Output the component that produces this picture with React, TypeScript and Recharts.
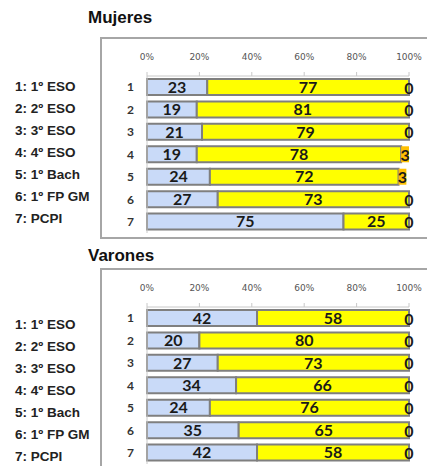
import React from "react";
import { BarChart, Bar, XAxis, YAxis, LabelList } from "recharts";

const categories = ["1", "2", "3", "4", "5", "6", "7"];
const courseLabels = ["1: 1º ESO", "2: 2º ESO", "3: 3º ESO", "4: 4º ESO", "5: 1º Bach", "6: 1º FP GM", "7: PCPI"];
const xTicks = [0, 20, 40, 60, 80, 100];

const mujeresA = [23, 19, 21, 19, 24, 27, 75];
const mujeresB = [77, 81, 79, 78, 72, 73, 25];
const mujeresC = [0, 0, 0, 3, 3, 0, 0];

const varonesA = [42, 20, 27, 34, 24, 35, 42];
const varonesB = [58, 80, 73, 66, 76, 65, 58];
const varonesC = [0, 0, 0, 0, 0, 0, 0];

const BLUE = "#c9daf8";
const YELLOW = "#ffff00";
const ORANGE = "#ffc000";
const EDGE = "#7f7f7f";

const buildRows = (a: number[], b: number[], c: number[]) =>
  categories.map((cat, i) => ({ cat, a: a[i], b: b[i], c: c[i] }));

const labelStyle = {
  fill: "#1a1a1a",
  fontFamily: "Lato",
  fontWeight: 700,
  fontSize: 16,
};

// third segment is often 0 wide, so its label is placed from the yellow bar's box
const lastLabel = (props: any) => {
  const { x, y, width, height, value } = props;
  const [b, c] = String(value).split("|").map(Number);
  const unit = b > 0 ? width / b : 0;
  const cx = x + width + (unit * c) / 2;
  return (
    <text
      x={cx}
      y={y + height / 2}
      textAnchor="middle"
      dominantBaseline="central"
      style={labelStyle}
    >
      {c}
    </text>
  );
};

function Panel({
  title,
  titleTop,
  boxTop,
  boxHeight,
  labelTop,
  rows,
}: {
  title: string;
  titleTop: number;
  boxTop: number;
  boxHeight: number;
  labelTop: number;
  rows: { cat: string; a: number; b: number; c: number }[];
}) {
  return (
    <>
      <div
        style={{
          position: "absolute",
          left: 88,
          top: titleTop,
          fontFamily: "Liberation Sans, Arial, sans-serif",
          fontWeight: 700,
          fontSize: 17,
          color: "#111",
          lineHeight: "20px",
        }}
      >
        {title}
      </div>
      {courseLabels.map((t, i) => (
        <div
          key={t}
          style={{
            position: "absolute",
            left: 15,
            top: labelTop + i * 22,
            height: 22,
            lineHeight: "22px",
            fontFamily: "Liberation Sans, Arial, sans-serif",
            fontWeight: 700,
            fontSize: 13.5,
            color: "#222",
            whiteSpace: "nowrap",
          }}
        >
          {t}
        </div>
      ))}
      <div
        style={{
          position: "absolute",
          left: 100,
          top: boxTop,
          width: 340,
          height: boxHeight,
          border: "2px solid #a6a6a6",
          boxSizing: "border-box",
        }}
      />
      <div style={{ position: "absolute", left: 100, top: boxTop }}>
        <BarChart
          width={327}
          height={203}
          data={rows}
          layout="vertical"
          margin={{ top: 9, right: 18, bottom: 7, left: 17 }}
          barSize={16}
        >
          <XAxis
            type="number"
            orientation="top"
            domain={[0, 100]}
            ticks={xTicks}
            tickFormatter={(v) => `${v}%`}
            height={30}
            axisLine={{ stroke: "#c8c8c8" }}
            tickLine={{ stroke: "#c8c8c8" }}
            tickSize={4}
            tickMargin={12}
            tick={{ fill: "#555", fontSize: 9, fontFamily: "DejaVu Sans" }}
            interval={0}
          />
          <YAxis
            type="category"
            dataKey="cat"
            width={30}
            axisLine={{ stroke: "#c8c8c8" }}
            tickLine={false}
            tickSize={6}
            tickMargin={7}
            tick={{ fill: "#333", fontSize: 12, fontFamily: "Lato", fontWeight: 700 }}
          />
          <Bar dataKey="a" stackId="s" fill={BLUE} stroke={EDGE} strokeWidth={2} isAnimationActive={false}>
            <LabelList dataKey="a" position="center" style={labelStyle} />
          </Bar>
          <Bar dataKey="b" stackId="s" fill={YELLOW} stroke={EDGE} strokeWidth={2} isAnimationActive={false}>
            <LabelList dataKey="b" position="center" style={labelStyle} />
            <LabelList dataKey={(d: any) => `${d.b}|${d.c}`} content={lastLabel} />
          </Bar>
          <Bar dataKey="c" stackId="s" fill={ORANGE} isAnimationActive={false} />
        </BarChart>
      </div>
    </>
  );
}

export default function App() {
  return (
    <div
      style={{
        position: "absolute",
        left: 0,
        top: 0,
        width: 427,
        height: 466,
        overflow: "hidden",
        background: "#fff",
      }}
    >
      <Panel
        title="Mujeres"
        titleTop={8}
        boxTop={37}
        boxHeight={202}
        labelTop={76}
        rows={buildRows(mujeresA, mujeresB, mujeresC)}
      />
      <Panel
        title="Varones"
        titleTop={246}
        boxTop={268}
        boxHeight={220}
        labelTop={314}
        rows={buildRows(varonesA, varonesB, varonesC)}
      />
    </div>
  );
}
